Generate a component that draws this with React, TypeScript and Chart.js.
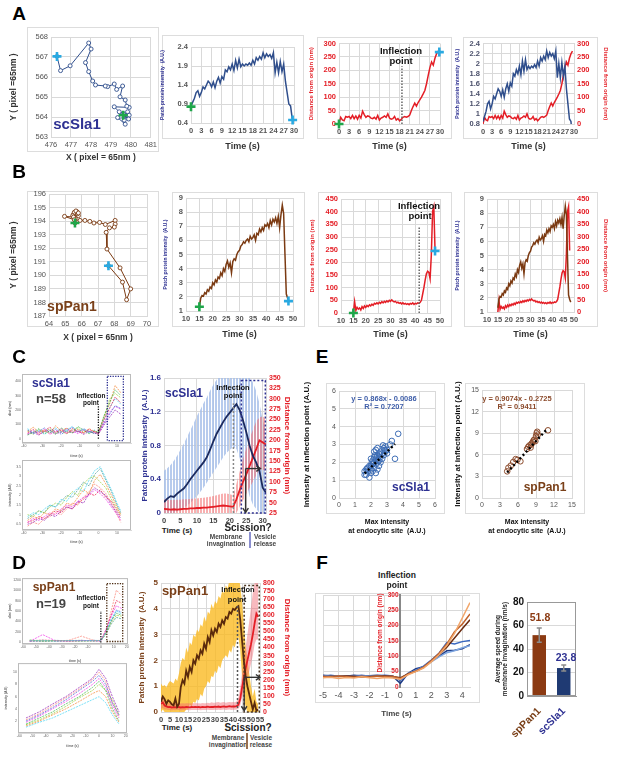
import React, { useEffect, useRef } from 'react';
import { Chart, registerables } from 'chart.js';

Chart.register(...registerables);

const FONT = "'Liberation Sans', Arial, Helvetica, sans-serif";
Chart.defaults.font.family = FONT;

const NAVY = '#2E3192';
const NAVY_LINE = '#2F4E8C';
const NAVY_DARK = '#1B2A5E';
const BROWN = '#7A4019';
const BROWN_LINE = '#7B3A12';
const BROWN_DARK = '#5A2A0C';
const RED = '#E41E26';
const CYAN = '#29A9E1';
const GREEN = '#1FA64A';
const GRID = '#d9d9d9';
const TICK = '#555555';

// ---------------- DATA ----------------
// A: scSla1 single patch
const slaTrajX = [479.62, 479.84, 479.67, 479.5, 479.92, 479.34, 479.72, 479.62, 479.89, 479.42, 479.17, 479.92, 479.8, 479.72, 479.46, 479.59, 479.29, 479.17, 478.84, 478.72, 478.23, 478.09, 477.89, 477.73, 478.01, 477.89, 476.96, 476.48, 476.3];
const slaTrajY = [564.09, 564.26, 563.84, 564.04, 564.09, 563.97, 563.64, 564.17, 563.9, 564.26, 564.51, 564.48, 564.54, 564.85, 565.01, 565.55, 565.38, 565.65, 565.52, 565.55, 565.6, 565.8, 566.27, 566.72, 567.4, 567.7, 566.56, 566.32, 567.03];
const slaT0 = 0;
const slaDT = 0.5;
const slaIntensity = [0.85, 0.95, 1.05, 1.2, 1.25, 1.1, 1.2, 1.35, 1.3, 1.4, 1.5, 1.45, 1.35, 1.48, 1.33, 1.5, 1.6, 1.45, 1.62, 1.55, 1.8, 1.75, 1.88, 1.8, 1.95, 1.78, 2.05, 1.85, 2.08, 1.88, 1.95, 1.9, 1.95, 1.92, 1.98, 1.92, 2.05, 1.95, 2.12, 2.05, 2.15, 2.08, 2.25, 2.12, 2.22, 2.15, 2.2, 2.1, 2.25, 1.72, 2.0, 1.72, 2.02, 1.75, 1.95, 1.5, 1.2, 0.9, 0.85, 0.5];
const slaDistance = [0, 25, 15, 12, 28, 25, 28, 20, 32, 20, 30, 18, 32, 22, 48, 35, 25, 30, 28, 22, 20, 25, 18, 32, 15, 22, 25, 30, 25, 38, 22, 18, 20, 28, 15, 20, 12, 18, 25, 28, 25, 28, 33, 50, 65, 78, 67, 80, 90, 100, 112, 125, 150, 181, 210, 231, 219, 245, 262, 272];
const slaStart = { x: 0, intensity: 0.83, distance: 0 };
const slaEnd = { intensityX: 29.6, intensity: 0.48, distanceX: 29.8, distance: 268 };
const slaInflection = 18.7;

// B: spPan1 single patch
const panTrajX = [65.59, 65.6, 65.5, 65.7, 65.8, 65.55, 65.75, 65.45, 65.65, 65.8, 65.5, 64.95, 65.55, 65.9, 66.2, 66.5, 66.75, 67.1, 67.45, 68.05, 68.05, 68.0, 67.7, 67.5, 67.55, 68.35, 69.0, 68.75, 68.5, 67.64];
const panTrajY = [193.86, 194.2, 194.5, 194.7, 194.4, 194.65, 194.55, 194.4, 194.75, 194.6, 194.3, 194.35, 194.1, 194.05, 194.05, 193.98, 193.86, 193.9, 193.75, 194.05, 193.78, 193.56, 193.5, 193.17, 191.94, 190.55, 189.0, 188.2, 189.5, 190.71];
const panT0 = 15;
const panDT = 0.5;
const panIntensity = [1.3, 1.9, 2.1, 2.05, 2.3, 2.2, 2.5, 2.4, 2.7, 2.6, 3.0, 2.85, 3.2, 3.05, 3.4, 3.3, 3.7, 3.5, 4.0, 3.8, 4.3, 4.55, 4.1, 4.4, 3.7, 4.5, 4.7, 4.6, 5.0, 5.2, 5.3, 5.6, 5.7, 5.9, 5.8, 6.0, 6.1, 5.9, 6.3, 6.1, 6.2, 6.4, 6.0, 6.5, 6.4, 6.8, 6.6, 6.9, 6.7, 7.1, 7.0, 7.2, 6.9, 7.4, 7.1, 7.5, 7.3, 7.6, 7.2, 7.7, 6.9, 7.8, 8.5, 7.9, 5.0, 2.2, 1.9, 1.7];
const panDistance = [0, 45, 10, 22, 15, 20, 12, 25, 18, 28, 22, 30, 25, 32, 28, 35, 30, 38, 35, 40, 36, 42, 38, 45, 40, 46, 42, 48, 44, 50, 46, 52, 47, 44, 46, 40, 43, 38, 41, 36, 40, 35, 38, 34, 37, 33, 38, 35, 40, 34, 38, 36, 40, 38, 42, 50, 75, 100, 130, 155, 165, 160, 135, 230, 400, 420, 245];
const panInflection = 41.6;

// C: scSla1 population
const cTopTimes = [-38, -35, -32, -29, -26, -23, -20, -17, -14, -11, -8, -5, -2, 0, 3, 6, 9, 12];
const cTopLines = [
  [40, 65, 30, 55, 80, 45, 60, 35, 70, 50, 40, 65, 45, 35, 130, 210, 290, 250],
  [25, 45, 70, 35, 55, 30, 75, 50, 40, 85, 60, 35, 55, 40, 160, 250, 340, 300],
  [60, 35, 50, 75, 40, 65, 30, 55, 80, 45, 70, 50, 35, 45, 110, 170, 230, 210],
  [50, 80, 45, 60, 35, 90, 55, 75, 45, 65, 40, 70, 50, 50, 150, 240, 370, 320],
  [30, 45, 25, 50, 60, 35, 45, 70, 40, 55, 30, 50, 40, 30, 95, 150, 200, 170],
  [70, 40, 60, 30, 55, 75, 45, 60, 85, 50, 65, 40, 60, 40, 135, 215, 280, 240],
  [35, 55, 40, 65, 30, 50, 70, 40, 55, 35, 60, 45, 50, 35, 105, 185, 225, 205],
  [55, 30, 65, 45, 70, 40, 50, 35, 60, 75, 45, 55, 35, 45, 145, 275, 315, 285],
];
const cBotTimes = [-38, -35, -32, -29, -26, -23, -20, -17, -14, -11, -8, -5, -2, 1, 4, 7, 10, 12];
const cBotLines = [
  [0.7, 0.9, 0.8, 1.1, 1.0, 1.3, 1.2, 1.6, 1.5, 1.9, 2.3, 2.1, 2.8, 3.1, 2.6, 2.0, 1.4, 1.0],
  [0.5, 0.6, 0.8, 0.7, 1.0, 0.9, 1.2, 1.4, 1.3, 1.7, 1.6, 2.1, 2.4, 2.2, 2.0, 1.5, 1.1, 0.8],
  [0.9, 1.1, 1.0, 1.3, 1.5, 1.4, 1.8, 1.7, 2.1, 2.4, 2.2, 2.8, 3.3, 3.5, 2.9, 2.3, 1.6, 1.2],
  [0.6, 0.8, 0.7, 0.9, 1.1, 1.0, 1.3, 1.5, 1.4, 1.7, 1.9, 2.0, 2.3, 2.1, 1.8, 1.4, 1.0, 0.7],
  [1.0, 0.9, 1.2, 1.1, 1.4, 1.6, 1.5, 1.9, 2.2, 2.0, 2.6, 2.9, 3.0, 2.7, 2.4, 1.8, 1.3, 1.0],
  [0.4, 0.6, 0.5, 0.8, 0.9, 1.1, 1.0, 1.3, 1.6, 1.5, 1.9, 2.2, 2.6, 2.4, 2.1, 1.6, 1.0, 0.6],
  [0.8, 1.0, 1.2, 1.1, 1.5, 1.4, 1.7, 2.0, 1.9, 2.3, 2.7, 2.5, 3.1, 3.4, 2.8, 2.2, 1.5, 1.1],
  [0.6, 0.7, 0.9, 0.8, 1.0, 1.2, 1.1, 1.4, 1.3, 1.6, 1.8, 2.1, 2.0, 2.3, 1.9, 1.7, 1.2, 0.9],
];
const cT0 = 0;
const cDT = 1;
const cNavyMean = [0.13, 0.17, 0.2, 0.19, 0.23, 0.26, 0.29, 0.34, 0.4, 0.45, 0.5, 0.55, 0.6, 0.66, 0.75, 0.85, 0.94, 1.01, 1.08, 1.14, 1.19, 1.24, 1.29, 1.22, 1.1, 0.96, 0.8, 0.68, 0.6, 0.5, 0.3, 0.24];
const cBlueUp = [0.5, 0.53, 0.57, 0.62, 0.68, 0.75, 0.82, 0.9, 0.98, 1.06, 1.15, 1.22, 1.3, 1.37, 1.45, 1.52, 1.58, 1.64, 1.7, 1.74, 1.78, 1.8, 1.82, 1.8, 1.76, 1.7, 1.62, 1.55, 1.45, 1.3, 1.1, 0.98];
const cBlueLo = [0, 0, 0, 0, 0.02, 0.04, 0.06, 0.09, 0.12, 0.16, 0.2, 0.25, 0.3, 0.36, 0.42, 0.48, 0.54, 0.6, 0.66, 0.71, 0.75, 0.78, 0.76, 0.65, 0.5, 0.35, 0.2, 0.1, 0.05, 0, 0, 0];
const cRedMean = [35, 34, 33, 34, 33, 34, 35, 35, 36, 36, 37, 37, 38, 38, 39, 40, 41, 42, 43, 42, 41, 40, 58, 80, 100, 118, 138, 158, 178, 200, 195, 190];
const cRedUp = [58, 57, 56, 56, 57, 57, 58, 58, 59, 60, 60, 61, 62, 63, 64, 66, 68, 70, 72, 72, 70, 68, 95, 125, 155, 180, 205, 225, 245, 255, 258, 250];
const cRedLo = [12, 11, 10, 12, 10, 11, 12, 12, 13, 12, 14, 13, 14, 13, 14, 14, 15, 14, 15, 14, 13, 12, 25, 40, 55, 70, 85, 100, 115, 130, 130, 125];
const cInflection = 21.1;
const cInflectionTop = 1.3;
const cBox = [23.5, 30.8, 0, 1.57];
const cArrow = [24.8, 29.3, 132, 27];
const cSmallInflTop = 230;
const cSmallBox = [4.8, 13.4, -13, 433];

// D: spPan1 population
const dTopTimes = [-55, -45, -35, -25, -15, -5, 0, 4, 8, 12, 16];
const dTopLines = [
  [30, 40, 25, 35, 30, 40, 35, 200, 450, 600, 550],
  [20, 150, 30, 25, 40, 30, 25, 250, 500, 700, 650],
  [40, 30, 35, 30, 25, 35, 30, 180, 380, 520, 500],
  [25, 35, 30, 40, 120, 35, 40, 220, 600, 1000, 900],
  [35, 25, 40, 30, 35, 30, 35, 160, 350, 480, 450],
  [30, 45, 35, 25, 30, 40, 30, 240, 520, 800, 750],
  [45, 30, 25, 35, 40, 25, 40, 200, 420, 560, 520],
  [20, 25, 30, 35, 30, 35, 30, 190, 400, 620, 580],
];
const dBotTimes = [-55, -45, -35, -25, -15, -5, 0, 5, 10, 15];
const dBotLines = [
  [1.5, 2.5, 3.5, 4.8, 6.0, 7.5, 8.5, 7.0, 4.0, 2.0],
  [2.0, 3.0, 4.2, 5.5, 7.0, 8.5, 9.5, 8.0, 5.0, 3.0],
  [1.2, 2.0, 3.0, 4.0, 5.2, 6.5, 7.0, 6.0, 3.5, 1.8],
  [2.5, 3.5, 4.8, 6.0, 7.5, 9.0, 10.5, 9.0, 6.0, 3.5],
  [1.0, 1.8, 2.5, 3.5, 4.5, 5.5, 6.0, 5.0, 3.0, 1.5],
  [1.8, 2.8, 4.0, 5.2, 6.5, 8.0, 9.0, 7.5, 4.5, 2.5],
  [1.4, 2.2, 3.2, 4.4, 5.8, 7.0, 8.0, 7.0, 5.5, 3.0],
  [2.2, 3.2, 4.5, 5.8, 7.2, 8.8, 10.0, 8.5, 5.0, 2.8],
];
const dT0 = 0;
const dDT = 1;
const dBrownMean = [0.4, 0.6, 0.5, 0.32, 0.45, 0.39, 0.3, 0.26, 0.52, 0.2, 0.32, 0.97, 1.23, 1.1, 1.6, 1.36, 1.74, 1.55, 2.0, 1.87, 2.2, 2.07, 2.39, 2.26, 2.65, 2.45, 2.9, 2.71, 3.17, 2.97, 3.23, 3.1, 3.42, 3.3, 3.55, 3.42, 3.68, 3.62, 3.88, 3.81, 4.0, 3.95, 4.05, 4.1, 3.6, 2.8, 2.0, 1.4, 1.0, 0.7, 0.4, 0.1, 0.35, 0.05, 0.1];
const dYellowUp = [1.1, 1.0, 1.05, 0.95, 1.1, 1.2, 1.15, 1.1, 1.3, 1.2, 1.5, 1.9, 2.1, 2.0, 2.5, 2.3, 2.7, 2.6, 3.0, 2.9, 3.2, 3.1, 3.4, 3.3, 3.7, 3.5, 3.9, 3.8, 4.2, 4.0, 4.3, 4.2, 4.5, 4.4, 4.7, 4.6, 4.9, 4.8, 5.1, 5.0, 5.2, 5.2, 5.3, 5.3, 4.9, 4.3, 3.4, 2.6, 2.0, 1.5, 1.0, 0.6, 0.9, 0.4, 0.3];
const dYellowLo = [0, 0.1, 0, 0, 0, 0, 0, 0, 0, 0, 0, 0, 0, 0, 0.1, 0.1, 0.3, 0.2, 0.4, 0.35, 0.5, 0.45, 0.7, 0.6, 0.9, 1.0, 1.2, 1.1, 1.4, 1.35, 1.6, 1.5, 1.8, 1.7, 2.0, 2.1, 2.2, 2.1, 2.4, 2.3, 2.6, 2.5, 2.8, 2.9, 2.4, 1.4, 0.6, 0.2, 0, 0, 0, 0, 0, 0, 0];
const dRedMean = [50, 60, 40, 35, 30, 32, 28, 30, 29, 31, 30, 28, 30, 29, 31, 30, 29, 31, 30, 32, 30, 31, 29, 32, 30, 31, 33, 30, 32, 31, 33, 32, 34, 31, 33, 35, 32, 34, 36, 33, 35, 34, 36, 45, 80, 150, 210, 270, 320, 370, 420, 480, 550, 610, 590];
const dPinkUp = [90, 100, 80, 60, 55, 55, 52, 54, 53, 55, 54, 52, 54, 53, 55, 54, 53, 55, 54, 56, 54, 55, 53, 56, 54, 55, 57, 54, 60, 58, 57, 60, 62, 58, 60, 62, 58, 60, 62, 60, 62, 60, 65, 90, 150, 240, 320, 400, 480, 560, 650, 740, 800, 800, 800];
const dPinkLo = [20, 25, 15, 15, 12, 12, 10, 12, 11, 12, 12, 10, 12, 11, 12, 12, 11, 12, 12, 13, 12, 13, 11, 13, 12, 12, 14, 12, 13, 12, 14, 13, 14, 12, 14, 15, 13, 14, 15, 13, 14, 14, 15, 20, 40, 90, 130, 170, 210, 250, 300, 350, 420, 450, 450];
const dInflection = 42.5;
const dInflectionTop = 4.15;
const dBox = [46.2, 54.6, 0, 4.9];
const dArrow = [46.2, 55, 215, 10];
const dSmallInflTop = 600;
const dSmallBox = [4.6, 16.9, 18, 1125];

// E: scatter
const e1X = [1.6, 1.6, 1.7, 1.8, 1.9, 1.8, 2.0, 2.0, 2.1, 2.1, 2.2, 2.2, 2.2, 2.3, 2.3, 2.3, 2.4, 2.4, 2.4, 2.5, 2.5, 2.5, 2.6, 2.6, 2.7, 2.7, 2.8, 2.8, 2.9, 2.9, 3.0, 3.0, 3.2, 3.3, 3.5, 3.7, 2.0, 2.1, 1.9, 2.2, 2.3, 2.4, 2.6, 2.0, 1.7, 2.35, 2.15, 2.45, 2.55, 2.75, 2.85, 1.75, 2.05, 2.25];
const e1Y = [1.3, 1.5, 1.6, 1.5, 1.15, 1.7, 1.6, 1.8, 1.9, 2.1, 1.7, 2.0, 2.3, 1.4, 1.9, 2.2, 2.0, 2.4, 1.6, 2.1, 2.5, 1.8, 2.3, 2.6, 2.2, 2.5, 2.8, 2.4, 2.9, 2.6, 2.5, 2.7, 3.0, 3.2, 2.2, 3.6, 2.2, 1.5, 1.8, 2.6, 2.7, 2.8, 2.0, 1.4, 1.3, 2.35, 1.95, 2.15, 2.45, 2.95, 2.7, 1.65, 2.0, 2.4];
const e1TrendX = [1.6, 3.5];
const e1TrendY = [1.38, 3.03];
const e2X = [4.2, 4.4, 4.8, 5.2, 5.6, 5.9, 6.4, 7.5, 7.7, 7.9, 8.1, 8.3, 8.5, 8.7, 8.9, 9.0, 9.1, 9.2, 9.3, 8.6, 8.2, 11.0];
const e2Y = [3.7, 4.2, 4.5, 5.0, 5.4, 5.3, 5.1, 6.8, 7.1, 7.3, 7.0, 7.6, 7.8, 8.1, 7.9, 8.6, 9.0, 9.2, 8.8, 8.0, 7.4, 9.4];
const e2TrendX = [4.2, 10.8];
const e2TrendY = [3.54, 9.53];

// F
const fT0 = -5;
const fDT = 0.5;
const fOrangeLight = [30, 32, 28, 31, 29, 33, 30, 28, 31, 29, 25, 40, 50, 62, 82, 105, 135, 175, 225, 275];
const fBrown = [35, 33, 36, 34, 32, 35, 33, 36, 34, 35, 28, 42, 52, 65, 86, 110, 140, 180, 205, 238];
const fDarkBrown = [33, 35, 34, 36, 35, 33, 34, 35, 36, 34, 30, 43, 51, 64, 84, 105, 130, 160, 190, 219];
const fNavy = [38, 36, 37, 35, 38, 36, 37, 38, 36, 35, 12, 45, 60, 66, 85, 100, 118, 120, 125, 138];
const fBlue = [36, 38, 35, 37, 36, 38, 35, 37, 38, 36, 22, 42, 55, 68, 88, 110, 145, 140, 148, 152];
const fLightBlue = [34, 35, 36, 34, 35, 34, 36, 35, 34, 33, 25, 44, 53, 65, 82, 98, 112, 118, 128, 135];
const fCats = ['spPan1', 'scSla1'];
const fSpeed = [51.8, 23.8];
const fErr = [6.0, 2.5];

const spaghettiColors = ['#e6194b', '#3cb44b', '#4363d8', '#f58231', '#911eb4', '#42d4f4', '#f032e6', '#9acd32', '#fa8072', '#469990'];

// ---------------- HELPERS ----------------
type Box = { x: number; y: number; w: number; h: number };
const pts = (xs: number[], ys: number[]) => xs.map((x, i) => ({ x, y: ys[i] }));
const series = (t0: number, dt: number, ys: number[]) => ys.map((y, i) => ({ x: t0 + i * dt, y }));
const fmt = (v: number) => String(Math.round(v * 1000) / 1000);

function stripes(color: string) {
  const cv = document.createElement('canvas');
  cv.width = 3; cv.height = 4;
  const g = cv.getContext('2d') as CanvasRenderingContext2D;
  g.fillStyle = color; g.fillRect(0, 0, 2, 4);
  return g.createPattern(cv, 'repeat');
}

const cross = (x: number, y: number, color: string, yAxisID = 'y') => ({
  data: [{ x, y }], showLine: false, pointStyle: 'cross', pointRadius: 4.5, pointBorderWidth: 2.6,
  pointBorderColor: color, borderColor: color, clip: false, order: 0, yAxisID,
});
const traj = (xs: number[], ys: number[], color: string) => ({
  data: pts(xs, ys), showLine: true, borderColor: color, borderWidth: 1, pointRadius: 2,
  pointBorderWidth: 0.9, pointBorderColor: color, pointBackgroundColor: '#ffffff', order: 2,
});
const ln = (data: any[], color: string, width = 1.4, yAxisID = 'y', extra: any = {}) => ({
  data, borderColor: color, borderWidth: width, pointRadius: 0, yAxisID, fill: false, order: 1, ...extra,
});
const bandPair = (up: any[], lo: any[], color: any, yAxisID: string, order: number) => [
  { data: up, borderWidth: 0, borderColor: 'rgba(0,0,0,0)', pointRadius: 0, fill: '+1', backgroundColor: color, yAxisID, order },
  { data: lo, borderWidth: 0, borderColor: 'rgba(0,0,0,0)', pointRadius: 0, fill: false, yAxisID, order },
];
const dots = (xs: number[], ys: number[], color: string) => ({
  data: pts(xs, ys), showLine: false, pointStyle: 'circle', pointRadius: 2.8, pointBorderWidth: 1,
  pointBorderColor: color, pointBackgroundColor: 'rgba(255,255,255,0)', order: 2,
});
const trend = (xs: number[], ys: number[]) => ({
  data: pts(xs, ys), showLine: true, borderColor: '#000', borderWidth: 2.4, borderDash: [2, 2.6], pointRadius: 0, order: 1,
});
const spaghetti = (xs: number[], ys: number[], color: string) => ln(pts(xs, ys), color, 0.7, 'y', { borderDash: [2, 1] });

function axis(o: any, isX: boolean, size: number | null) {
  const t: any = {
    type: 'linear',
    min: o.min,
    max: o.max,
    position: o.position || (isX ? 'bottom' : 'left'),
    grid: { display: o.grid !== false, color: GRID, lineWidth: 1, drawTicks: false },
    border: { display: true, color: o.borderColor || GRID, width: o.borderWidth || 1 },
    ticks: {
      stepSize: o.step,
      color: o.color || TICK,
      font: { family: FONT, size: o.fs || 7.5, weight: o.fw || 'bold' },
      padding: o.pad ?? 3,
      autoSkip: false,
      maxRotation: 0,
      minRotation: 0,
      callback: o.cb || ((v: any) => fmt(Number(v))),
    },
    title: o.title
      ? { display: true, text: o.title, color: o.tc || '#333', font: { family: FONT, size: o.tfs || 8, weight: 'bold' }, padding: 0 }
      : { display: false },
  };
  if (o.ticks) t.afterBuildTicks = (s: any) => { s.ticks = o.ticks.map((v: number) => ({ value: v })); };
  if (size !== null) t.afterFit = (s: any) => { if (isX) s.height = size; else s.width = size; };
  return t;
}

const framePlugin = (color: string) => ({
  id: 'frame',
  afterDraw(c: any) {
    const a = c.chartArea; const ctx = c.ctx;
    ctx.save(); ctx.strokeStyle = color; ctx.lineWidth = 1;
    ctx.strokeRect(a.left + 0.5, a.top + 0.5, a.right - a.left - 1, a.bottom - a.top - 1);
    ctx.restore();
  },
});

function dline(ctx: any, x1: number, y1: number, x2: number, y2: number, color: string, width: number, dash: number[]) {
  ctx.save(); ctx.strokeStyle = color; ctx.lineWidth = width; ctx.setLineDash(dash);
  ctx.beginPath(); ctx.moveTo(x1, y1); ctx.lineTo(x2, y2); ctx.stroke(); ctx.restore();
}
function drect(ctx: any, x1: number, y1: number, x2: number, y2: number, color: string, width: number, dash: number[]) {
  ctx.save(); ctx.strokeStyle = color; ctx.lineWidth = width; ctx.setLineDash(dash);
  ctx.strokeRect(Math.min(x1, x2), Math.min(y1, y2), Math.abs(x2 - x1), Math.abs(y2 - y1)); ctx.restore();
}
function arrow(ctx: any, x1: number, y1: number, x2: number, y2: number, color: string, width: number, head = 5) {
  dline(ctx, x1, y1, x2, y2, color, width, []);
  const a = Math.atan2(y2 - y1, x2 - x1);
  ctx.save(); ctx.strokeStyle = color; ctx.lineWidth = width; ctx.beginPath();
  ctx.moveTo(x2 - head * Math.cos(a - 0.6), y2 - head * Math.sin(a - 0.6));
  ctx.lineTo(x2, y2);
  ctx.lineTo(x2 - head * Math.cos(a + 0.6), y2 - head * Math.sin(a + 0.6));
  ctx.stroke(); ctx.restore();
}
const overlay = (id: string, fn: (c: any, ctx: any) => void) => ({
  id,
  afterDatasetsDraw(chart: any) { const ctx = chart.ctx; ctx.save(); fn(chart, ctx); ctx.restore(); },
});
const X = (c: any, v: number) => c.scales.x.getPixelForValue(v);
const Y = (c: any, v: number, id = 'y') => c.scales[id].getPixelForValue(v);

type Spec = { box: Box; make: () => any };
function spec(box: Box, plot: number[], o: any): Spec {
  return {
    box,
    make: () => {
      const [pl, pt, pr, pb] = plot;
      const leftW = pl - box.x;
      const rightW = box.x + box.w - pr;
      const topP = pt - box.y;
      const botH = box.y + box.h - pb;
      const dynY = typeof o.y.position === 'object';
      const scales: any = { x: axis(o.x, true, botH), y: axis(o.y, false, dynY ? null : leftW) };
      if (o.y2) scales.y2 = axis({ ...o.y2, position: 'right', grid: false }, false, rightW);
      const plugins = [...(o.plugins || [])];
      if (o.frame) plugins.push(framePlugin(o.frame));
      const datasets = typeof o.datasets === 'function' ? o.datasets() : o.datasets;
      return {
        type: 'line',
        data: { datasets },
        options: {
          responsive: false,
          animation: false,
          events: [],
          layout: { padding: { top: topP, right: o.y2 ? 0 : rightW, bottom: 0, left: dynY ? leftW : 0 }, autoPadding: false },
          plugins: { legend: { display: false }, tooltip: { enabled: false } },
          scales,
        },
        plugins,
      };
    },
  };
}

// ---------------- CHART SPECS ----------------
const ATIME = { min: 0, max: 30, step: 3, fs: 7.5, title: 'Time (s)', tfs: 9 };
const BTIME = { min: 10, max: 50, step: 5, fs: 7.5, title: 'Time (s)', tfs: 9 };
const PPI = 'Patch protein intensity  (A.U.)';
const DFO = 'Distance from origin (nm)';
const SMALL_X_C = { min: -41, max: 17.5, ticks: [-40, -30, -20, -10, 0, 10], fs: 3.5, fw: 'normal', pad: 1, color: '#666', title: 'time (s)', tfs: 3.5, tc: '#666', grid: false };
const SMALL_X_D = { min: -61, max: 21, ticks: [-60, -50, -40, -30, -20, -10, 0, 10, 20], fs: 3.5, fw: 'normal', pad: 1, color: '#666', title: 'time (s)', tfs: 3.5, tc: '#666', grid: false };

const specs: Spec[] = [
  // A1 trajectory
  spec({ x: 9, y: 28, w: 151, h: 135 }, [51, 37, 152, 137], {
    x: { min: 476, max: 481, step: 1, fs: 7.5, fw: 'normal', title: 'X ( pixel = 65nm )', tfs: 8.5 },
    y: { min: 563, max: 568, step: 1, fs: 7.5, fw: 'normal', title: 'Y ( pixel =65nm )', tfs: 8.5 },
    datasets: [cross(slaTrajX[0], slaTrajY[0], GREEN), cross(slaTrajX[slaTrajX.length - 1], slaTrajY[slaTrajY.length - 1], CYAN), traj(slaTrajX, slaTrajY, NAVY_LINE)],
  }),
  // A2 intensity
  spec({ x: 160, y: 34, w: 148, h: 118 }, [191, 47, 294, 123], {
    x: ATIME,
    y: { min: 0.4, max: 2.4, step: 0.5, fs: 7.5, title: PPI, tfs: 5, tc: NAVY },
    datasets: [cross(slaStart.x, slaStart.intensity, GREEN), cross(slaEnd.intensityX, slaEnd.intensity, CYAN), ln(series(slaT0, slaDT, slaIntensity), NAVY_LINE, 1.5)],
  }),
  // A3 distance
  spec({ x: 308, y: 36, w: 144, h: 116 }, [339, 43, 440, 124], {
    x: ATIME,
    y: { min: 0, max: 300, step: 50, fs: 7.5, color: RED, title: DFO, tfs: 6, tc: RED },
    datasets: [cross(slaStart.x, slaStart.distance, GREEN), cross(slaEnd.distanceX, slaEnd.distance, CYAN), ln(series(slaT0, slaDT, slaDistance), RED, 1.5)],
    plugins: [overlay('a3', (c, ctx) => dline(ctx, X(c, slaInflection), Y(c, 0), X(c, slaInflection), Y(c, 215), '#666', 1.5, [1.5, 1.5]))],
  }),
  // A4 dual
  spec({ x: 455, y: 36, w: 154, h: 116 }, [483, 43, 574, 124], {
    x: ATIME,
    y: { min: 0.8, max: 2.4, step: 0.2, fs: 7.5, color: '#4a4f6a', title: PPI, tfs: 5, tc: NAVY },
    y2: { min: 0, max: 300, step: 50, fs: 7.5, color: RED, title: DFO, tfs: 6, tc: RED },
    datasets: [ln(series(slaT0, slaDT, slaIntensity), NAVY_LINE, 1.5), ln(series(slaT0, slaDT, slaDistance), RED, 1.5, 'y2')],
  }),
  // B1 trajectory
  spec({ x: 9, y: 185, w: 151, h: 158 }, [49, 194, 147, 316], {
    x: { min: 64, max: 70, step: 1, fs: 7.5, fw: 'normal', title: 'X ( pixel = 65nm )', tfs: 8.5 },
    y: { min: 187, max: 196, step: 1, fs: 7.5, fw: 'normal', title: 'Y ( pixel =65nm )', tfs: 8.5 },
    datasets: [cross(panTrajX[0], panTrajY[0], GREEN), cross(panTrajX[panTrajX.length - 1], panTrajY[panTrajY.length - 1], CYAN), traj(panTrajX, panTrajY, BROWN_LINE)],
  }),
  // B2 intensity
  spec({ x: 163, y: 190, w: 143, h: 150 }, [186, 198, 293, 311], {
    x: BTIME,
    y: { min: 1, max: 9, step: 1, fs: 7.5, title: PPI, tfs: 5, tc: NAVY },
    datasets: [cross(15, 1.3, GREEN), cross(48.3, 1.7, CYAN), ln(series(panT0, panDT, panIntensity), BROWN_LINE, 1.5)],
  }),
  // B3 distance
  spec({ x: 309, y: 190, w: 143, h: 150 }, [341, 199, 440, 313], {
    x: BTIME,
    y: { min: 0, max: 450, step: 50, fs: 7.5, color: RED, title: DFO, tfs: 6, tc: RED },
    datasets: [cross(15, 0, GREEN), cross(48, 245, CYAN), ln(series(panT0, panDT, panDistance), RED, 1.5)],
    plugins: [overlay('b3', (c, ctx) => dline(ctx, X(c, panInflection), Y(c, 0), X(c, panInflection), Y(c, 340), '#666', 1.5, [1.5, 1.5]))],
  }),
  // B4 dual
  spec({ x: 455, y: 190, w: 154, h: 150 }, [487, 199, 574, 312], {
    x: BTIME,
    y: { min: 1, max: 9, step: 1, fs: 7.5, title: PPI, tfs: 5, tc: NAVY },
    y2: { min: 0, max: 450, step: 50, fs: 7.5, color: RED, title: DFO, tfs: 6, tc: RED },
    datasets: [ln(series(panT0, panDT, panIntensity), BROWN_LINE, 1.5), ln(series(panT0, panDT, panDistance), RED, 1.5, 'y2')],
  }),
  // C small top
  spec({ x: 8, y: 370, w: 125, h: 88 }, [22, 374, 131, 443], {
    x: SMALL_X_C,
    y: { min: -30, max: 450, ticks: [0, 100, 200, 300, 400], fs: 3.5, fw: 'normal', pad: 1, color: '#666', title: 'dist (nm)', tfs: 3.5, tc: '#666', grid: false },
    frame: '#bbbbbb',
    datasets: cTopLines.map((ys, i) => spaghetti(cTopTimes, ys, spaghettiColors[i % spaghettiColors.length])),
    plugins: [overlay('ct', (c, ctx) => {
      dline(ctx, X(c, 0), Y(c, 0), X(c, 0), Y(c, cSmallInflTop), '#111', 1.3, [1.3, 1.3]);
      drect(ctx, X(c, cSmallBox[0]), Y(c, cSmallBox[2]), X(c, cSmallBox[1]), Y(c, cSmallBox[3]), NAVY, 1.3, [1.3, 1.3]);
    })],
  }),
  // C small bottom
  spec({ x: 8, y: 456, w: 125, h: 88 }, [22, 460, 131, 530], {
    x: SMALL_X_C,
    y: { min: 0.2, max: 3.85, ticks: [0.5, 1, 1.5, 2, 2.5, 3, 3.5], fs: 3.5, fw: 'normal', pad: 1, color: '#666', title: 'intensity (AU)', tfs: 3.5, tc: '#666', grid: false },
    frame: '#bbbbbb',
    datasets: cBotLines.map((ys, i) => spaghetti(cBotTimes, ys, spaghettiColors[(i + 3) % spaghettiColors.length])),
  }),
  // C big
  spec({ x: 140, y: 368, w: 152, h: 155 }, [164, 378, 266, 513], {
    x: { min: 0, max: 31, ticks: [0, 5, 10, 15, 20, 25, 30], fs: 7.5, color: '#444' },
    y: { min: 0, max: 1.6, step: 0.4, fs: 8, color: NAVY, title: PPI, tfs: 8, tc: NAVY },
    y2: { min: 25, max: 350, step: 25, fs: 7, color: RED, title: DFO, tfs: 8, tc: RED },
    datasets: () => [
      ...bandPair(series(cT0, cDT, cBlueUp), series(cT0, cDT, cBlueLo), stripes('rgba(165,190,232,0.8)'), 'y', 6),
      ...bandPair(series(cT0, cDT, cRedUp), series(cT0, cDT, cRedLo), stripes('rgba(242,110,112,0.55)'), 'y2', 5),
      ln(series(cT0, cDT, cNavyMean), NAVY_DARK, 1.8, 'y'),
      ln(series(cT0, cDT, cRedMean), RED, 1.8, 'y2'),
    ],
    plugins: [overlay('cb', (c, ctx) => {
      dline(ctx, X(c, cInflection), Y(c, 0), X(c, cInflection), Y(c, cInflectionTop), '#888', 1.5, [2, 2]);
      drect(ctx, X(c, cBox[0]), Y(c, cBox[2]), X(c, cBox[1]), Y(c, cBox[3]), NAVY, 1.5, [2, 2]);
      arrow(ctx, X(c, cArrow[0]), Y(c, cArrow[2], 'y2'), X(c, cArrow[0]), Y(c, cArrow[3], 'y2'), '#333', 1.4, 5);
      arrow(ctx, X(c, cArrow[0]), Y(c, cArrow[2], 'y2'), X(c, cArrow[1]), Y(c, cArrow[2], 'y2'), '#333', 1.4, 5);
    })],
  }),
  // D small top
  spec({ x: 8, y: 575, w: 125, h: 88 }, [22, 578, 128, 644], {
    x: SMALL_X_D,
    y: { min: -30, max: 1230, ticks: [0, 200, 400, 600, 800, 1000, 1200], fs: 3.5, fw: 'normal', pad: 1, color: '#666', title: 'dist (nm)', tfs: 3.5, tc: '#666', grid: false },
    frame: '#bbbbbb',
    datasets: dTopLines.map((ys, i) => spaghetti(dTopTimes, ys, spaghettiColors[(i + 5) % spaghettiColors.length])),
    plugins: [overlay('dt', (c, ctx) => {
      dline(ctx, X(c, 0), Y(c, 0), X(c, 0), Y(c, dSmallInflTop), '#111', 1.3, [1.3, 1.3]);
      drect(ctx, X(c, dSmallBox[0]), Y(c, dSmallBox[2]), X(c, dSmallBox[1]), Y(c, dSmallBox[3]), '#4a2a10', 1.3, [1.3, 1.3]);
    })],
  }),
  // D small bottom
  spec({ x: 4, y: 660, w: 126, h: 88 }, [18, 663, 127, 733], {
    x: SMALL_X_D,
    y: { min: 0.04, max: 11.5, ticks: [2, 4, 6, 8, 10], fs: 3.5, fw: 'normal', pad: 1, color: '#666', title: 'intensity (AU)', tfs: 3.5, tc: '#666', grid: false },
    frame: '#bbbbbb',
    datasets: dBotLines.map((ys, i) => spaghetti(dBotTimes, ys, spaghettiColors[(i + 1) % spaghettiColors.length])),
  }),
  // D big
  spec({ x: 137, y: 575, w: 155, h: 147 }, [161, 583, 260, 712], {
    x: { min: 0, max: 55, step: 5, fs: 7.5, color: '#444' },
    y: { min: 0, max: 5, step: 1, fs: 8, color: BROWN, title: PPI, tfs: 8, tc: BROWN },
    y2: { min: 0, max: 800, step: 50, fs: 7, color: RED, title: DFO, tfs: 8, tc: RED },
    datasets: [
      ...bandPair(series(dT0, dDT, dYellowUp), series(dT0, dDT, dYellowLo), 'rgba(250,185,30,0.78)', 'y', 6),
      ...bandPair(series(dT0, dDT, dPinkUp), series(dT0, dDT, dPinkLo), 'rgba(240,100,110,0.45)', 'y2', 5),
      ln(series(dT0, dDT, dBrownMean), BROWN_DARK, 1.8, 'y'),
      ln(series(dT0, dDT, dRedMean), RED, 1.8, 'y2'),
    ],
    plugins: [overlay('db', (c, ctx) => {
      dline(ctx, X(c, dInflection), Y(c, 0), X(c, dInflection), Y(c, dInflectionTop), '#555', 1.5, [2, 2]);
      drect(ctx, X(c, dBox[0]), Y(c, dBox[2]), X(c, dBox[1]), Y(c, dBox[3]), '#4a3420', 1.5, [2, 2]);
      arrow(ctx, X(c, dArrow[0]), Y(c, dArrow[2], 'y2'), X(c, dArrow[0]), Y(c, dArrow[3], 'y2'), '#333', 1.4, 5);
      arrow(ctx, X(c, dArrow[0]), Y(c, dArrow[2], 'y2'), X(c, dArrow[1]), Y(c, dArrow[2], 'y2'), '#333', 1.4, 5);
    })],
  }),
  // E1 scatter
  spec({ x: 302, y: 380, w: 146, h: 155 }, [339, 391, 435, 498], {
    x: { min: 0, max: 6, step: 1, fs: 7, fw: 'normal', title: ['Max intensity', 'at endocytic site  (A.U.)'], tfs: 7, tc: '#111' },
    y: { min: 0, max: 6, step: 1, fs: 7, fw: 'normal', title: 'Intensity at inflection point (A.U.)', tfs: 8, tc: '#111' },
    datasets: [dots(e1X, e1Y, '#3D6DB5'), trend(e1TrendX, e1TrendY)],
  }),
  // E2 scatter
  spec({ x: 453, y: 380, w: 137, h: 155 }, [482, 390, 572, 498], {
    x: { min: 0, max: 15, step: 3, fs: 7, fw: 'normal', title: ['Max intensity', 'at endocytic site  (A.U.)'], tfs: 7, tc: '#111' },
    y: { min: 0, max: 15, step: 3, fs: 7, fw: 'normal', title: 'Intensity at inflection point (A.U.)', tfs: 8, tc: '#111' },
    datasets: [dots(e2X, e2Y, '#8B4A2B'), trend(e2TrendX, e2TrendY)],
  }),
  // F line
  spec({ x: 313, y: 588, w: 169, h: 131 }, [323, 595, 470, 687], {
    x: { min: -5, max: 4.5, ticks: [-5, -4, -3, -2, -1, 0, 1, 2, 3, 4], fs: 9, fw: 'normal', color: '#555', title: 'Time (s)', tfs: 8, tc: '#444' },
    y: { position: { x: 0 }, min: 0, max: 300, step: 50, fs: 6.5, color: RED, borderColor: '#888', borderWidth: 2, cb: (v: any) => fmt(Number(v)) + ' ' },
    datasets: [
      ln(series(fT0, fDT, fOrangeLight), '#F2A66A', 1.5),
      ln(series(fT0, fDT, fBrown), '#C0622B', 1.5),
      ln(series(fT0, fDT, fDarkBrown), '#6B2A0E', 1.5),
      ln(series(fT0, fDT, fLightBlue), '#7EA6E0', 1.5),
      ln(series(fT0, fDT, fBlue), '#3A68C0', 1.5),
      ln(series(fT0, fDT, fNavy), '#1F3C88', 1.5),
    ],
  }),
];

const errorBarPlugin = {
  id: 'err',
  afterDatasetsDraw(c: any) {
    const meta = c.getDatasetMeta(0); const y = c.scales.y; const ctx = c.ctx;
    ctx.save(); ctx.strokeStyle = '#8c8c8c'; ctx.lineWidth = 1.5;
    meta.data.forEach((bar: any, i: number) => {
      const top = y.getPixelForValue(fSpeed[i] + fErr[i]);
      const bot = y.getPixelForValue(fSpeed[i] - fErr[i]);
      ctx.beginPath();
      ctx.moveTo(bar.x, top); ctx.lineTo(bar.x, bot);
      ctx.moveTo(bar.x - 2.5, top); ctx.lineTo(bar.x + 2.5, top);
      ctx.moveTo(bar.x - 2.5, bot); ctx.lineTo(bar.x + 2.5, bot);
      ctx.stroke();
    });
    ctx.restore();
  },
};

const barSpec: Spec = {
  box: { x: 494, y: 592, w: 96, h: 150 },
  make: () => ({
    type: 'bar',
    data: { labels: fCats, datasets: [{ data: fSpeed, backgroundColor: ['#8B3A12', '#1F3A73'], barPercentage: 0.55, categoryPercentage: 1, borderWidth: 0 }] },
    options: {
      responsive: false, animation: false, events: [],
      layout: { padding: { top: 10, right: 14, left: 0, bottom: 0 }, autoPadding: false },
      plugins: { legend: { display: false }, tooltip: { enabled: false } },
      scales: {
        x: {
          grid: { display: false }, border: { display: true, color: '#999' },
          ticks: { color: (c: any) => (c.index === 0 ? BROWN : NAVY), font: { family: FONT, size: 10.5, weight: 'bold' }, maxRotation: 45, minRotation: 45, padding: 1, autoSkip: false },
          afterFit: (s: any) => { s.height = 46; },
        },
        y: {
          min: 0, max: 80,
          grid: { color: GRID, drawTicks: false }, border: { display: true, color: '#999' },
          ticks: { stepSize: 20, color: '#111', font: { family: FONT, size: 10, weight: 'bold' }, padding: 3 },
          title: { display: true, text: ['Average speed during', 'membrane invagination (nm/s)'], color: '#222', font: { family: FONT, size: 6.5, weight: 'bold' }, padding: 0 },
          afterFit: (s: any) => { s.width = 33; },
        },
      },
    },
    plugins: [errorBarPlugin, framePlugin('#999')],
  }),
};

// ---------------- COMPONENTS ----------------
function ChartCanvas({ s }: { s: Spec }) {
  const ref = useRef<HTMLCanvasElement>(null);
  useEffect(() => {
    const chart = new Chart(ref.current as HTMLCanvasElement, s.make());
    return () => chart.destroy();
  }, []);
  const b = s.box;
  return <canvas ref={ref} width={b.w} height={b.h} style={{ position: 'absolute', left: b.x, top: b.y, width: b.w, height: b.h }} />;
}

function T({ x, y, s, c = '#222', w = 700, r = 0, children }: any) {
  return (
    <div style={{ position: 'absolute', left: x, top: y, transform: `translate(-50%, -50%) rotate(${r}deg)`, fontFamily: FONT, fontSize: s, fontWeight: w, color: c, whiteSpace: 'nowrap', lineHeight: 1 }}>
      {children}
    </div>
  );
}

function Frame({ x, y, w, h }: any) {
  return <div style={{ position: 'absolute', left: x, top: y, width: w, height: h, border: '1px solid #dddddd', boxSizing: 'border-box' }} />;
}

const frames = [
  [27, 27, 132, 125], [162, 35, 142, 104], [317, 37, 135, 102], [463, 37, 135, 102],
  [27, 191, 132, 136], [172, 192, 133, 135], [318, 192, 134, 135], [464, 192, 134, 135],
  [326, 383, 119, 131], [465, 383, 120, 131], [315, 593, 165, 110],
];

export default function App() {
  return (
    <div style={{ position: 'absolute', left: 0, top: 0, width: 617, height: 757, background: '#fff', overflow: 'hidden', fontFamily: FONT }}>
      {frames.map((f, i) => <Frame key={'f' + i} x={f[0]} y={f[1]} w={f[2]} h={f[3]} />)}
      {specs.map((s, i) => <ChartCanvas key={'c' + i} s={s} />)}
      <ChartCanvas s={barSpec} />

      <T x={19} y={13} s={19} c="#000">A</T>
      <T x={19} y={171} s={19} c="#000">B</T>
      <T x={19} y={356} s={19} c="#000">C</T>
      <T x={19} y={562} s={19} c="#000">D</T>
      <T x={322} y={356} s={19} c="#000">E</T>
      <T x={322} y={562} s={19} c="#000">F</T>

      <T x={77} y={123} s={15} c={NAVY}>scSla1</T>
      <T x={72} y={306} s={14} c={BROWN}>spPan1</T>
      <T x={401} y={51} s={9.5} c="#111">Inflection</T>
      <T x={401} y={61} s={9.5} c="#111">point</T>
      <T x={419} y={206} s={9.5} c="#111">Inflection</T>
      <T x={420} y={216} s={9.5} c="#111">point</T>

      <T x={51} y={383} s={12} c={NAVY}>scSla1</T>
      <T x={51} y={398} s={13} c="#444">n=58</T>
      <T x={91} y={395.5} s={6.5} c="#111">Inflection</T>
      <T x={91} y={402.5} s={6.5} c="#111">point</T>
      <T x={184} y={393} s={12} c={NAVY}>scSla1</T>
      <T x={233} y={388} s={7.5} c="#111">Inflection</T>
      <T x={233} y={396} s={7.5} c="#111">point</T>
      <T x={177} y={531} s={8} c="#222">Time (s)</T>
      <T x={248} y={528} s={10} c="#222">Scission?</T>
      <T x={226} y={537} s={6.5} c="#444">Membrane</T>
      <T x={226} y={543.5} s={6.5} c="#444">invagination</T>
      <T x={265} y={537} s={6.5} c="#444">Vesicle</T>
      <T x={265} y={543.5} s={6.5} c="#444">release</T>
      <div style={{ position: 'absolute', left: 249, top: 532, width: 1.5, height: 16, background: '#8B8FD0' }} />

      <T x={54} y={587} s={12} c={BROWN}>spPan1</T>
      <T x={51} y={603} s={13} c="#444">n=19</T>
      <T x={91} y={598} s={6.5} c="#111">Inflection</T>
      <T x={91} y={606} s={6.5} c="#111">point</T>
      <T x={185} y={590} s={13} c={BROWN}>spPan1</T>
      <T x={238} y={590} s={7.5} c="#111">Inflection</T>
      <T x={237} y={600} s={7.5} c="#111">point</T>
      <T x={177} y={728} s={8} c="#222">Time (s)</T>
      <T x={248} y={728} s={10} c="#222">Scission?</T>
      <T x={228} y={738} s={6.5} c="#444">Membrane</T>
      <T x={228} y={744.5} s={6.5} c="#444">invagination</T>
      <T x={261} y={738} s={6.5} c="#444">Vesicle</T>
      <T x={261} y={744.5} s={6.5} c="#444">release</T>
      <div style={{ position: 'absolute', left: 246, top: 733, width: 1.5, height: 16, background: '#9A7050' }} />

      <T x={384} y={399} s={7.5} c="#3D5DA8">y = 0.868x - 0.0086</T>
      <T x={384} y={407} s={7.5} c="#3D5DA8">R² = 0.7207</T>
      <T x={517} y={399} s={7.5} c="#8B4A2B">y = 0.9074x - 0.2725</T>
      <T x={517} y={407} s={7.5} c="#8B4A2B">R² = 0.9411</T>
      <T x={411} y={487} s={12} c={NAVY}>scSla1</T>
      <T x={545} y={487} s={12} c={BROWN}>spPan1</T>

      <T x={397} y={575} s={8.5} c="#222">Inflection</T>
      <T x={397} y={585} s={8.5} c="#222">point</T>
      <T x={380} y={633} s={6.5} c={RED} r={-90}>Distance from origin (nm)</T>
      <T x={540} y={617} s={10.5} c="#8B3A12">51.8</T>
      <T x={566} y={657} s={10.5} c={NAVY}>23.8</T>
    </div>
  );
}
